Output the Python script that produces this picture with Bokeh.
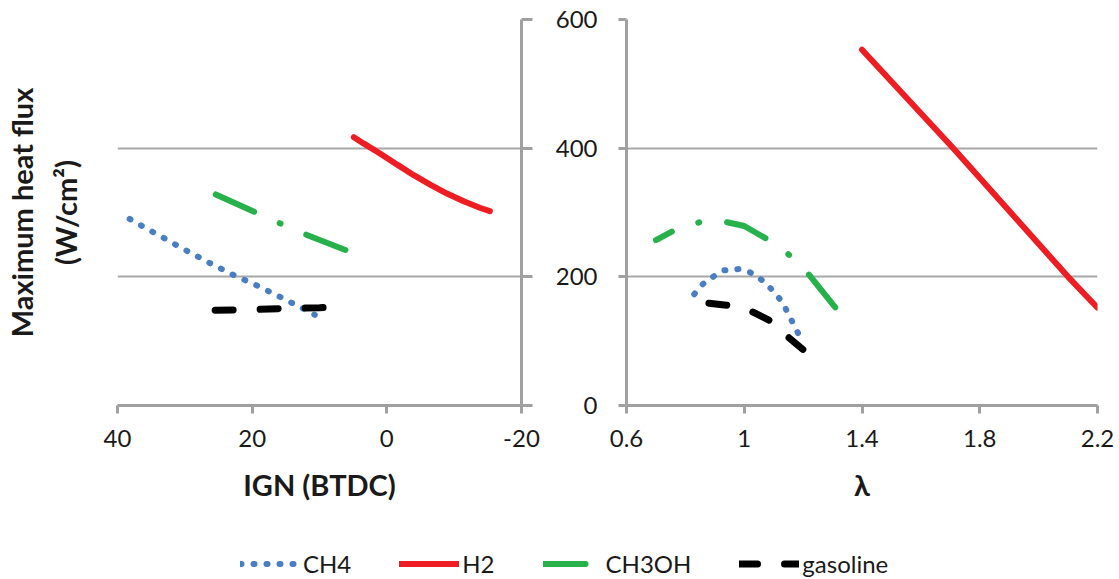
from bokeh.plotting import figure
from bokeh.models import (Range1d, FixedTicker, LinearAxis, Legend, LegendItem)
from bokeh.layouts import column, row
from bokeh.embed import file_html
from bokeh.resources import INLINE

# ---------------- data ----------------
# Left panel: ignition timing (deg BTDC) vs max heat flux (W/cm2)
ign_ch4 = [38.2, 34.8, 29.8, 26.4, 23.0, 19.4, 15.9, 12.7, 10.7]
hf_ign_ch4 = [290, 270, 241, 222, 204, 187, 169, 152, 141]
ign_h2 = [4.9, 3.4, 0.9, -1.6, -4.0, -6.5, -9.0, -11.5, -13.9, -15.3]
hf_ign_h2 = [417, 407, 391, 374, 358, 343, 329, 317, 307, 302]
ign_ch3oh = [25.4, 18.8, 15.4, 12.1, 5.5]
hf_ign_ch3oh = [328, 297, 281, 266, 239]
ign_gas = [25.5, 20.0, 15.0, 10.0, 8.2]
hf_ign_gas = [148, 149, 151, 152, 153]

# Right panel: lambda vs max heat flux
lam_ch4 = [0.83, 0.86, 0.90, 0.93, 0.98, 1.02, 1.06, 1.09, 1.12, 1.14, 1.16, 1.18, 1.20]
hf_lam_ch4 = [173, 189, 202, 210, 212, 207, 195, 182, 166, 151, 133, 115, 97]
lam_h2 = [1.40, 1.71, 2.10, 2.20]
hf_lam_h2 = [553, 400, 200, 152]
lam_ch3oh = [0.70, 0.77, 0.85, 0.93, 1.00, 1.08, 1.15, 1.21, 1.31]
hf_lam_ch3oh = [257, 274, 285, 286, 279, 258, 235, 209, 152]
lam_gas = [0.88, 0.96, 1.03, 1.10, 1.15, 1.21]
hf_lam_gas = [159, 155, 145, 129, 106, 83]

series_names = ["CH4", "H2", "CH3OH", "gasoline"]
ign_ticks = [40, 20, 0, -20]
ign_tick_labels = ["40", "20", "0", "-20"]
lam_ticks = [0.6, 1.0, 1.4, 1.8, 2.2]
lam_tick_labels = ["0.6", "1", "1.4", "1.8", "2.2"]
hf_ticks = [0, 200, 400, 600]

# ---------------- styles ----------------
FONT = "Lato"
AX = "#A0A0A0"
GRID = "#A8A8A8"
TXT = "#1a1a1a"
C_CH4 = "#4A7EC2"
C_H2 = "#EE1D23"
C_CH3OH = "#26B14B"
C_GAS = "#000000"
LW = 6

def style_line_kwargs(name):
    if name == "CH4":
        return dict(line_color=C_CH4, line_width=LW, line_dash="1 12", line_cap="round")
    if name == "H2":
        return dict(line_color=C_H2, line_width=LW, line_cap="round")
    if name == "CH3OH":
        return dict(line_color=C_CH3OH, line_width=LW, line_dash="42 28 1 28", line_cap="round")
    return dict(line_color=C_GAS, line_width=LW + 1, line_dash="18 27", line_cap="round")

def style_axis(ax, tick_out=8, tick_in=0):
    ax.axis_line_color = AX
    ax.axis_line_width = 3
    ax.major_tick_line_color = AX
    ax.major_tick_line_width = 3
    ax.major_tick_out = tick_out
    ax.major_tick_in = tick_in
    ax.minor_tick_line_color = None
    ax.major_label_text_font = FONT
    ax.major_label_text_font_size = "24px"
    ax.major_label_text_color = TXT
    ax.axis_label_text_font = FONT
    ax.axis_label_text_font_size = "29px"
    ax.axis_label_text_font_style = "bold"
    ax.axis_label_text_color = TXT

H = 547

# ---------------- left panel ----------------
left = figure(width=540, height=H, output_backend="svg", toolbar_location=None,
              x_range=Range1d(40, -20), y_range=Range1d(0, 600),
              min_border_left=116, min_border_right=19, min_border_top=19,
              min_border_bottom=H - 405)
left.outline_line_color = None
left.xgrid.visible = False
left.ygrid.ticker = FixedTicker(ticks=hf_ticks)
left.ygrid.grid_line_color = GRID
left.ygrid.grid_line_width = 2

xa = left.xaxis[0]
xa.ticker = FixedTicker(ticks=ign_ticks)
xa.major_label_overrides = {t: l for t, l in zip(ign_ticks, ign_tick_labels)}
style_axis(xa)
xa.major_label_standoff = 16
xa.axis_label = "IGN (BTDC)"
xa.axis_label_standoff = 17

ya = left.yaxis[0]
style_axis(ya, tick_out=0)
ya.ticker = FixedTicker(ticks=[])
ya.axis_line_color = None
ya.major_tick_line_color = None
ya.major_label_standoff = 0
ya.axis_label = "Maximum heat flux\n(W/cm²)"
ya.axis_label_standoff = 35
ya.axis_label_text_line_height = 1.25

ra = LinearAxis(ticker=FixedTicker(ticks=hf_ticks))
style_axis(ra, tick_out=11)
ra.major_label_overrides = {t: "" for t in hf_ticks}
ra.major_label_standoff = 0
left.add_layout(ra, "right")

left.line(ign_ch4, hf_ign_ch4, **style_line_kwargs("CH4"))
left.line(ign_h2, hf_ign_h2, **style_line_kwargs("H2"))
left.line(ign_ch3oh, hf_ign_ch3oh, **style_line_kwargs("CH3OH"))
left.line(ign_gas, hf_ign_gas, **style_line_kwargs("gasoline"))

# ---------------- right panel ----------------
right = figure(width=579, height=H, output_backend="svg", toolbar_location=None,
               x_range=Range1d(0.6, 2.2), y_range=Range1d(0, 600),
               min_border_left=86, min_border_right=22, min_border_top=19,
               min_border_bottom=H - 405)
right.outline_line_color = None
right.xgrid.visible = False
right.ygrid.ticker = FixedTicker(ticks=hf_ticks)
right.ygrid.grid_line_color = GRID
right.ygrid.grid_line_width = 2

xb = right.xaxis[0]
xb.ticker = FixedTicker(ticks=lam_ticks)
xb.major_label_overrides = {t: l for t, l in zip(lam_ticks, lam_tick_labels)}
style_axis(xb)
xb.major_label_standoff = 16
xb.axis_label = "λ"
xb.axis_label_standoff = 17

yb = right.yaxis[0]
yb.ticker = FixedTicker(ticks=hf_ticks)
style_axis(yb)
yb.major_label_standoff = 21

right.line(lam_ch4, hf_lam_ch4, **style_line_kwargs("CH4"))
right.line(lam_h2, hf_lam_h2, **style_line_kwargs("H2"))
right.line(lam_ch3oh, hf_lam_ch3oh, line_dash_offset=24, **style_line_kwargs("CH3OH"))
right.line(lam_gas, hf_lam_gas, **style_line_kwargs("gasoline"))

# ---------------- legend strip ----------------
leg = figure(width=1119, height=579 - H, output_backend="svg", toolbar_location=None,
             x_range=Range1d(0, 1), y_range=Range1d(0, 1),
             x_axis_type=None, y_axis_type=None, min_border=0)
leg.outline_line_color = None
leg.xgrid.visible = False
leg.ygrid.visible = False
items = []
for nm in series_names:
    # placeholder renderers kept outside the visible range; only their legend swatches show
    r = leg.line([5, 6], [5, 6], **style_line_kwargs(nm))
    items.append(LegendItem(label=nm, renderers=[r]))
legend = Legend(items=items, orientation="horizontal", location="left",
                margin=240, padding=0, spacing=48, glyph_width=60, glyph_height=20,
                label_standoff=3, label_text_font=FONT, label_text_font_size="24px",
                label_text_color=TXT, border_line_color=None,
                background_fill_alpha=0)
leg.add_layout(legend, "center")

layout = column(row(left, right), leg)
open("out.html", "w").write(file_html(layout, INLINE))
